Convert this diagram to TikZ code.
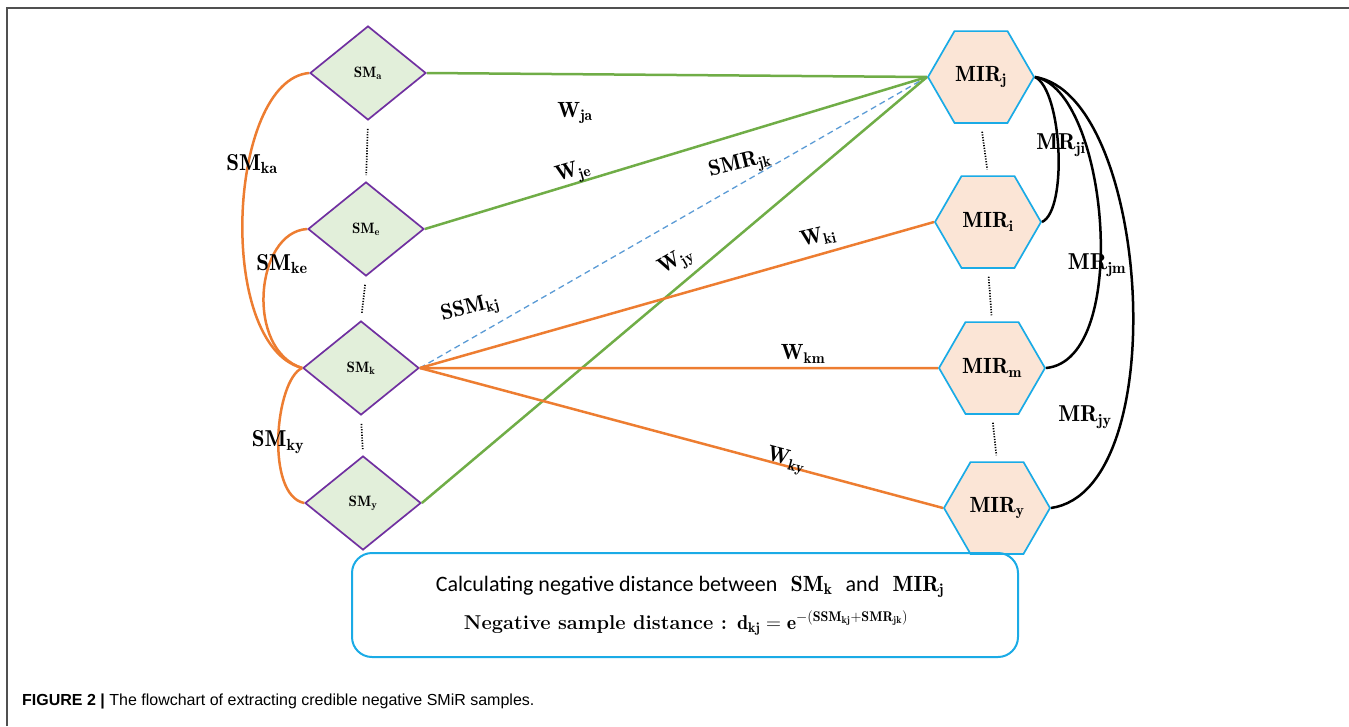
\documentclass[tikz,border=0pt]{standalone}
\usepackage{fontspec}
\newfontfamily\carlito{Carlito}
\newfontfamily\libsans{Liberation Sans}
\usetikzlibrary{shapes.geometric}
\definecolor{lgreen}{HTML}{E2EFDA}
\definecolor{dpurple}{HTML}{7030A0}
\definecolor{peach}{HTML}{FBE5D6}
\definecolor{hblue}{HTML}{1AABE6}
\definecolor{gline}{HTML}{70AD47}
\definecolor{oline}{HTML}{ED7D31}
\definecolor{bdash}{HTML}{5B9BD5}
\definecolor{frameg}{HTML}{505050}
\begin{document}
\begin{tikzpicture}[x=1pt,y=-1pt,
  smnode/.style={diamond, draw=dpurple, fill=lgreen, line width=1.7pt, minimum width=116pt, minimum height=94pt, inner sep=0pt, font=\fontsize{15}{17}\selectfont},
  mirnode/.style={regular polygon, regular polygon sides=6, draw=hblue, fill=peach, line width=1.7pt, minimum size=106pt, inner sep=0pt, font=\fontsize{22}{26}\selectfont},
  gedge/.style={draw=gline, line width=2.5pt},
  oedge/.style={draw=oline, line width=2.5pt},
  kedge/.style={draw=black, line width=2.5pt},
  dedge/.style={draw=bdash, line width=1.3pt, dash pattern=on 6pt off 4pt},
  dotline/.style={draw=black, line width=1.7pt, dash pattern=on 1.2pt off 1.5pt, shorten <=8pt, shorten >=6pt},
  lab/.style={font=\fontsize{23}{27}\selectfont, inner sep=0pt},
  wlab/.style={font=\fontsize{22}{26}\selectfont, inner sep=0pt}]
\useasboundingbox (0,0) rectangle (1349,726);
% frame
\draw[frameg, line width=2pt] (7,726) -- (7,8) -- (1349,8);
% diamonds
\node[smnode] (sma) at (368,73) {$\mathbf{SM_a}$};
\node[smnode] (sme) at (366,229) {$\mathbf{SM_e}$};
\node[smnode] (smk) at (361,368) {$\mathbf{SM_k}$};
\node[smnode] (smy) at (363,503) {$\mathbf{SM_y}$};
% hexagons
\node[mirnode] (mirj) at (981,77) {$\mathbf{MIR_j}$};
\node[mirnode] (miri) at (988,222) {$\mathbf{MIR_i}$};
\node[mirnode] (mirm) at (992,368) {$\mathbf{MIR_m}$};
\node[mirnode] (miry) at (997,508) {$\mathbf{MIR_y}$};
% dotted
\draw[dotline] (sma.south) -- (sme.north);
\draw[dotline] (sme.south) -- (smk.north);
\draw[dotline] (smk.south) -- (smy.north);
\draw[dotline] (mirj.south) -- (miri.north);
\draw[dotline] (miri.south) -- (mirm.north);
\draw[dotline] (mirm.south) -- (miry.north);
% edges
\draw[gedge] (sma.east) -- (mirj.west);
\draw[gedge] (sme.east) -- (mirj.west);
\draw[dedge] (smk.east) -- (mirj.west);
\draw[gedge] (smy.east) -- (mirj.west);
\draw[oedge] (smk.east) -- (miri.west);
\draw[oedge] (smk.east) -- (mirm.west);
\draw[oedge] (smk.east) -- (miry.west);
% left curves
\draw[oedge] (sma.west) .. controls (228,80) and (215,345) .. (smk.west);
\draw[oedge] (sme.west) .. controls (255,232) and (245,350) .. (smk.west);
\draw[oedge] (smk.west) .. controls (275,380) and (265,495) .. (smy.west);
% right curves
\draw[kedge] (mirj.east) .. controls (1062,90) and (1068,210) .. (miri.east);
\draw[kedge] (mirj.east) .. controls (1108,90) and (1132,360) .. (mirm.east);
\draw[kedge] (mirj.east) .. controls (1150,95) and (1175,490) .. (miry.east);
% labels
\node[lab] (lka) at (252,164) {$\mathbf{SM_{ka}}$};
\node[lab] (lke) at (282,264) {$\mathbf{SM_{ke}}$};
\node[lab] (lky) at (278,442) {$\mathbf{SM_{ky}}$};
\node[lab] (lji) at (1061,145) {$\mathbf{MR_{ji}}$};
\node[lab] (ljm) at (1097,265) {$\mathbf{MR_{jm}}$};
\node[lab] (ljy) at (1085,417) {$\mathbf{MR_{jy}}$};
\node[wlab] (wja) at (575,113) {$\mathbf{W_{ja}}$};
\node[wlab, rotate=16] (wje) at (573,173) {$\mathbf{W_{je}}$};
\node[wlab, rotate=14] (smr) at (740,165) {$\mathbf{SMR_{jk}}$};
\node[wlab, rotate=14] (ssm) at (470,309) {$\mathbf{SSM_{kj}}$};
\node[wlab, rotate=30] (wjy) at (676,262) {$\mathbf{W_{jy}}$};
\node[wlab, rotate=13] (wki) at (818,237) {$\mathbf{W_{ki}}$};
\node[wlab] (wkm) at (803,354) {$\mathbf{W_{km}}$};
\node[wlab, rotate=-15] (wky) at (786,461) {$\mathbf{W_{ky}}$};
% box
\node[draw=hblue, line width=2pt, rounded corners=20pt, minimum width=666pt, minimum height=104pt, inner sep=0pt] (box) at (685,605) {};
\node[inner sep=0pt, font=\fontsize{22}{26}\selectfont] (line1) at (690,587) {{\carlito Calculating negative distance between}\ \ $\mathbf{SM_k}$\ \ {\carlito and}\ \ $\mathbf{MIR_j}$};
\node[inner sep=0pt, font=\fontsize{20}{24}\selectfont] (line2) at (686,623) {\bfseries Negative sample distance : $\mathbf{d_{kj} = e^{-(SSM_{kj}+SMR_{jk})}}$};
% caption
\node[anchor=west, inner sep=0pt, font=\libsans\fontsize{16}{19}\selectfont] (cap) at (22,701) {\textbf{FIGURE 2 |} The flowchart of extracting credible negative SMiR samples.};
\end{tikzpicture}
\end{document}
